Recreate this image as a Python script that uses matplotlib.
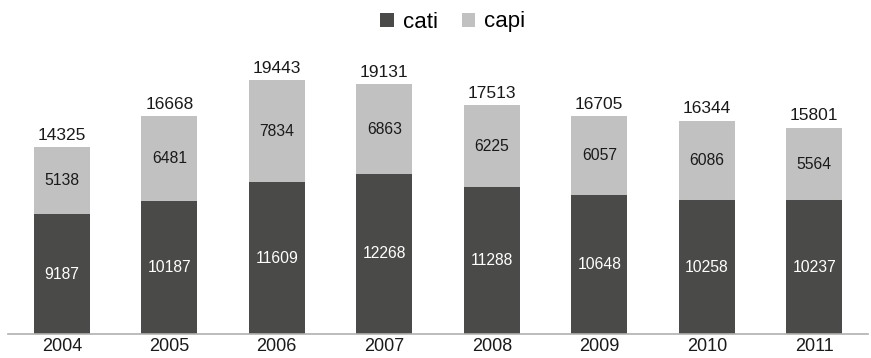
import matplotlib
matplotlib.use("Agg")
import matplotlib.pyplot as plt

years = ["2004", "2005", "2006", "2007", "2008", "2009", "2010", "2011"]
cati = [9187, 10187, 11609, 12268, 11288, 10648, 10258, 10237]
capi = [5138, 6481, 7834, 6863, 6225, 6057, 6086, 5564]
totals = [14325, 16668, 19443, 19131, 17513, 16705, 16344, 15801]

dark = "#4a4a48"
light = "#c0c1c0"

plt.rcParams["font.family"] = ["Liberation Sans", "DejaVu Sans"]

fig = plt.figure(figsize=(8.71, 3.58), dpi=100)
ax = fig.add_axes([8 / 871, 24 / 358, 860 / 871, 294 / 358])

x = list(range(len(years)))
w = 0.525
b1 = ax.bar(x, cati, width=w, color=dark, label="cati")
b2 = ax.bar(x, capi, width=w, bottom=cati, color=light, label="capi")

for i in x:
    ax.text(i, cati[i] / 2, str(cati[i]), ha="center", va="center",
            color="white", fontsize=11.3)
    ax.text(i, cati[i] + capi[i] / 2, str(capi[i]), ha="center", va="center",
            color="#1a1a1a", fontsize=11.3)
    ax.text(i, cati[i] + capi[i] + 330, str(totals[i]), ha="center", va="bottom",
            color="#1a1a1a", fontsize=12.5)

ax.set_xlim(-0.5, 7.5)
ax.set_ylim(0, 22528)
ax.set_xticks(x)
ax.set_xticklabels(years, fontsize=13, color="#1a1a1a")
ax.tick_params(axis="x", length=0, pad=3)
ax.set_yticks([])
for s in ["top", "right", "left"]:
    ax.spines[s].set_visible(False)
ax.spines["bottom"].set_color("#b0b0b0")
ax.spines["bottom"].set_linewidth(1.2)

fig.legend(handles=[b1, b2], labels=["cati", "capi"], loc="center",
           bbox_to_anchor=(453 / 871, 1 - 22 / 358), ncol=2, frameon=False,
           fontsize=16, handlelength=0.6, handleheight=0.6, handletextpad=0.4,
           columnspacing=1.1)

fig.savefig("out.png", dpi=100)
